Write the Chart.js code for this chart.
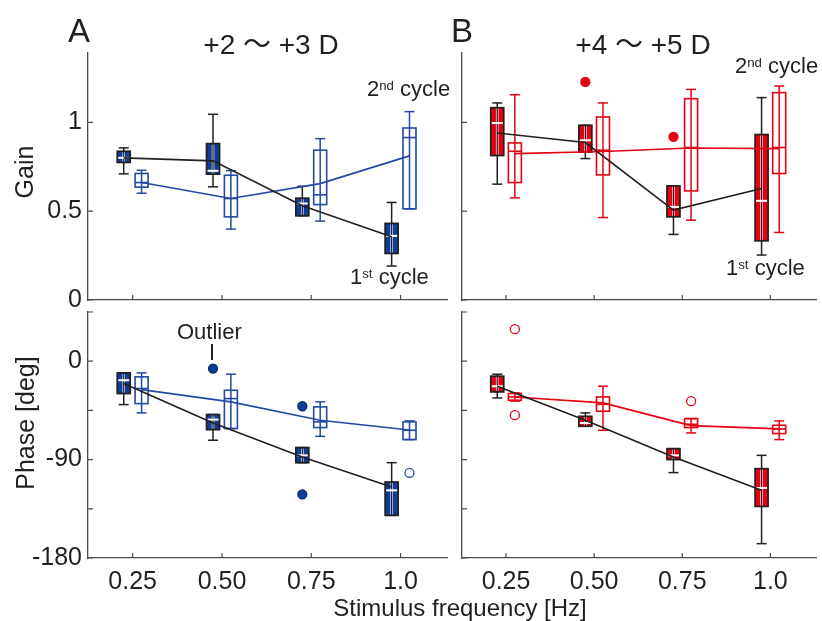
<!DOCTYPE html>
<html>
<head>
<meta charset="utf-8">
<script src="https://cdn.jsdelivr.net/npm/chart.js@4/dist/chart.umd.min.js"></script>
<style>
  html, body { margin: 0; padding: 0; background: #fff; }
  body { width: 822px; height: 621px; position: relative; overflow: hidden;
         font-family: "Liberation Sans", Arial, "Noto Sans CJK JP", sans-serif; color: #231f20; }
  canvas { position: absolute; }
  .txt { position: absolute; white-space: nowrap; line-height: 1; }
  .rot { position: absolute; white-space: nowrap; line-height: 1; transform: translate(-50%, -50%) rotate(-90deg); }
  sup { font-size: 0.6em; vertical-align: 0; position: relative; top: -0.45em; }
</style>
</head>
<body>
<canvas id="phaseA" width="429" height="296" style="left:28px;top:302px"></canvas>
<canvas id="phaseB" width="420" height="296" style="left:402px;top:302px"></canvas>
<canvas id="gainA" width="429" height="282" style="left:28px;top:43px"></canvas>
<canvas id="gainB" width="420" height="282" style="left:402px;top:43px"></canvas>

<div class="txt" style="left:68px;top:14px;font-size:33px">A</div>
<div class="txt" style="left:451px;top:14px;font-size:33px">B</div>
<div class="txt" style="left:271px;top:31px;font-size:28px;transform:translateX(-50%)">+2 〜 +3 D</div>
<div class="txt" style="left:643px;top:31px;font-size:28px;transform:translateX(-50%)">+4 〜 +5 D</div>

<div class="rot" style="left:24px;top:172px;font-size:25px">Gain</div>
<div class="rot" style="left:25px;top:423px;font-size:25px">Phase [deg]</div>
<div class="txt" style="left:460px;top:596px;font-size:24px;transform:translateX(-50%)">Stimulus frequency [Hz]</div>

<div class="txt" style="left:367px;top:78px;font-size:22px">2<sup>nd</sup> cycle</div>
<div class="txt" style="left:735px;top:55px;font-size:22px">2<sup>nd</sup> cycle</div>
<div class="txt" style="left:350px;top:266px;font-size:22px">1<sup>st</sup> cycle</div>
<div class="txt" style="left:726px;top:257px;font-size:22px">1<sup>st</sup> cycle</div>
<div class="txt" style="left:177px;top:321px;font-size:22px">Outlier</div>
<div style="position:absolute;left:211px;top:344px;width:1.5px;height:16px;background:#231f20"></div>

<script>
const freqs = [0.25, 0.5, 0.75, 1.0];
const freqLabels = ['0.25', '0.50', '0.75', '1.0'];
const gainTicks = [0, 0.5, 1];
const gainLabels = ['0', '0.5', '1'];
const phaseTicks = [-180, -135, -90, -45, 0, 45];
const phaseLabels = ['-180', '', '-90', '', '0', ''];

// box stats per frequency: [low whisker, q1, median, q3, high whisker]
const gainA1 = [[0.71, 0.774, 0.80, 0.837, 0.856], [0.637, 0.708, 0.727, 0.88, 1.045],
                [0.474, 0.474, 0.543, 0.573, 0.64], [0.191, 0.262, 0.361, 0.431, 0.549]];
const gainA1Mean = [0.80, 0.783, 0.53, 0.356];
const gainA2 = [[0.601, 0.635, 0.661, 0.712, 0.730], [0.399, 0.468, 0.571, 0.702, 0.728],
                [0.444, 0.537, 0.592, 0.843, 0.908], [0.513, 0.513, 0.914, 0.968, 1.06]];
const gainA2Mean = [0.661, 0.571, 0.655, 0.811];

const gainB1 = [[0.652, 0.813, 0.996, 1.082, 1.109], [0.796, 0.833, 0.899, 0.983, 0.983],
                [0.369, 0.468, 0.524, 0.642, 0.642], [0.253, 0.333, 0.558, 0.931, 1.139]];
const gainB1Mean = [0.94, 0.886, 0.506, 0.627];
const gainB2 = [[0.575, 0.661, 0.837, 0.884, 1.155], [0.464, 0.704, 0.843, 1.030, 1.109],
                [0.449, 0.614, 0.858, 1.133, 1.185], [0.380, 0.712, 0.858, 1.167, 1.204]];
const gainB2Mean = [0.824, 0.836, 0.855, 0.852];
const gainB1Outliers = [{x: 0.475, y: 1.227}, {x: 0.725, y: 0.918}];

const phaseA1 = [[-39.7, -29.6, -17.4, -10.7, -10.7], [-72.3, -62.6, -53.4, -48.8, -48.8],
                 [-92.8, -92.8, -86.1, -79.0, -79.0], [-141, -141, -118.1, -110.5, -92.8]];
const phaseA1Mean = [-20.4, -56.5, -87.6, -115];
const phaseA2 = [[-47.3, -38.8, -25.0, -14.3, -10.7], [-61.6, -61.6, -34.2, -26.6, -11.9],
                 [-68.7, -60.7, -55.5, -41.8, -37.2], [-71.7, -71.7, -63.2, -55.5, -54.6]];
const phaseA2Mean = [-26, -37.2, -54, -62.9];
const phaseA1Outliers = [{x: 0.475, y: -6.7}, {x: 0.725, y: -41.2}, {x: 0.725, y: -121.8}];
const phaseA2Outliers = [{x: 1.025, y: -102.2}];

const phaseB1 = [[-33.6, -28.1, -22.9, -13.7, -11.9], [-59.5, -59.5, -56.5, -50.4, -47.3],
                 [-101.9, -90, -86.1, -80, -80], [-166.9, -132.8, -116, -98.3, -86.1]];
const phaseB1Mean = [-22.9, -54, -87.6, -118.1];
const phaseB2 = [[-36.5, -35.7, -32.7, -29.6, -29], [-63.2, -45.8, -39.4, -32.7, -22.9],
                 [-65.6, -60.7, -57.7, -52.5, -52.5], [-71.7, -66.2, -62, -58.6, -54.6]];
const phaseB2Mean = [-32.7, -38.1, -58.9, -61.9];
const phaseB2Outliers = [{x: 0.275, y: 29.3}, {x: 0.275, y: -49.4}, {x: 0.775, y: -36.6}];

const INK = '#231f20';
const AXIS = '#4a4a4a';
const NAVY = '#103c9a';
const BLUE = '#2249a3';
const RED = '#e60012';
const SHIFT = 0.025;
const TICK_FONT = {family: '"Liberation Sans", Arial, sans-serif', size: 25};

function makeBoxPlugin(sets, yTicks) {
    return {
        id: 'boxes',
        beforeDatasetsDraw(chart) {
            const {ctx, scales: {x, y}} = chart;
            const hw = 6.5, cap = 5;
            ctx.save();
            sets.forEach(set => {
                set.stats.forEach((s, i) => {
                    const cx = x.getPixelForValue(freqs[i] + set.offset);
                    const [lo, q1, med, q3, hi] = s.map(v => y.getPixelForValue(v));
                    const line = (x0, y0, x1, y1, color, w) => {
                        ctx.strokeStyle = color;
                        ctx.lineWidth = w;
                        ctx.beginPath();
                        ctx.moveTo(x0, y0);
                        ctx.lineTo(x1, y1);
                        ctx.stroke();
                    };
                    const edge = set.filled ? INK : set.color;
                    // whisker + caps
                    line(cx, lo, cx, hi, edge, 1.5);
                    line(cx - cap, lo, cx + cap, lo, edge, 1.5);
                    line(cx - cap, hi, cx + cap, hi, edge, 1.5);
                    if (set.filled) {
                        ctx.fillStyle = set.color;
                        ctx.fillRect(cx - hw, q3, hw * 2, q1 - q3);
                        ctx.strokeStyle = INK;
                        ctx.lineWidth = 1.7;
                        ctx.strokeRect(cx - hw, q3, hw * 2, q1 - q3);
                        line(cx, q3 + 1, cx, q1 - 1, 'rgba(255,255,255,0.85)', 2.6);
                        line(cx, q3, cx, q1, INK, 1.2);
                        line(cx - hw + 1, med, cx + hw - 1, med, '#ffffff', 2);
                    } else {
                        ctx.strokeStyle = set.color;
                        ctx.lineWidth = 1.6;
                        ctx.strokeRect(cx - hw, q3, hw * 2, q1 - q3);
                        line(cx - hw, med, cx + hw, med, set.color, 1.6);
                    }
                });
            });
            ctx.restore();
        },
        afterDraw(chart) {
            const {ctx, chartArea, scales: {x, y}} = chart;
            ctx.save();
            ctx.strokeStyle = AXIS;
            ctx.lineWidth = 1.2;
            ctx.beginPath();
            freqs.forEach(f => {
                const px = x.getPixelForValue(f);
                ctx.moveTo(px, chartArea.bottom);
                ctx.lineTo(px, chartArea.bottom - 5);
            });
            yTicks.forEach(v => {
                const py = y.getPixelForValue(v);
                ctx.moveTo(chartArea.left, py);
                ctx.lineTo(chartArea.left + 5, py);
            });
            ctx.stroke();
            ctx.restore();
        }
    };
}

function meanLine(vals, offset, color) {
    return {
        data: vals.map((v, i) => ({x: freqs[i] + offset, y: v})),
        borderColor: color,
        borderWidth: 1.6,
        pointRadius: 0,
        fill: false
    };
}

function outlierSet(points, color, filled) {
    return {
        data: points,
        showLine: false,
        pointRadius: 4.5,
        pointBackgroundColor: filled ? color : '#ffffff',
        pointBorderColor: filled ? (color === RED ? RED : '#0b2a66') : color,
        pointBorderWidth: 1.3
    };
}

function noPadding(axis) {
    axis.paddingTop = 0;
    axis.paddingBottom = 0;
    axis.paddingLeft = 0;
    axis.paddingRight = 0;
}

function makeChart(id, cfg) {
    const yLabels = cfg.yLabels;
    return new Chart(document.getElementById(id), {
        type: 'line',
        data: {datasets: cfg.datasets},
        options: {
            responsive: false,
            animation: false,
            events: [],
            layout: {padding: {top: 10, right: cfg.padRight, bottom: 0, left: 0}},
            plugins: {legend: {display: false}, tooltip: {enabled: false}},
            scales: {
                x: {
                    type: 'linear',
                    min: 0.125,
                    max: 1.13,
                    afterBuildTicks: axis => { axis.ticks = freqs.map(v => ({value: v})); },
                    afterFit: axis => { axis.height = cfg.xHeight; noPadding(axis); },
                    grid: {display: false, drawTicks: false},
                    border: {display: true, color: AXIS, width: 1.3},
                    ticks: {
                        display: cfg.xLabels,
                        padding: 9,
                        color: INK,
                        font: TICK_FONT,
                        autoSkip: false,
                        maxRotation: 0,
                        callback: (v, i) => freqLabels[i]
                    }
                },
                y: {
                    type: 'linear',
                    min: cfg.yMin,
                    max: cfg.yMax,
                    afterBuildTicks: axis => { axis.ticks = cfg.yTicks.map(v => ({value: v})); },
                    afterFit: axis => { axis.width = 60; noPadding(axis); },
                    grid: {display: false, drawTicks: false},
                    border: {display: true, color: AXIS, width: 1.3},
                    ticks: {
                        display: !!yLabels,
                        padding: 6,
                        color: INK,
                        font: TICK_FONT,
                        autoSkip: false,
                        callback: (v, i) => yLabels ? yLabels[i] : ''
                    }
                }
            }
        },
        plugins: [makeBoxPlugin(cfg.boxes, cfg.yTicks)]
    });
}

makeChart('gainA', {
    yMin: 0, yMax: 1.39, yTicks: gainTicks, yLabels: gainLabels,
    xLabels: false, xHeight: 25, padRight: 10,
    boxes: [
        {stats: gainA2, offset: SHIFT, filled: false, color: BLUE},
        {stats: gainA1, offset: -SHIFT, filled: true, color: NAVY}
    ],
    datasets: [
        meanLine(gainA1Mean, -SHIFT, INK),
        meanLine(gainA2Mean, SHIFT, BLUE)
    ]
});

makeChart('gainB', {
    yMin: 0, yMax: 1.39, yTicks: gainTicks, yLabels: null,
    xLabels: false, xHeight: 25, padRight: 2,
    boxes: [
        {stats: gainB2, offset: SHIFT, filled: false, color: RED},
        {stats: gainB1, offset: -SHIFT, filled: true, color: RED}
    ],
    datasets: [
        outlierSet(gainB1Outliers, RED, true),
        meanLine(gainB1Mean, -SHIFT, INK),
        meanLine(gainB2Mean, SHIFT, RED)
    ]
});

makeChart('phaseA', {
    yMin: -180, yMax: 45, yTicks: phaseTicks, yLabels: phaseLabels,
    xLabels: true, xHeight: 40, padRight: 10,
    boxes: [
        {stats: phaseA2, offset: SHIFT, filled: false, color: BLUE},
        {stats: phaseA1, offset: -SHIFT, filled: true, color: NAVY}
    ],
    datasets: [
        outlierSet(phaseA1Outliers, NAVY, true),
        outlierSet(phaseA2Outliers, BLUE, false),
        meanLine(phaseA1Mean, -SHIFT, INK),
        meanLine(phaseA2Mean, SHIFT, BLUE)
    ]
});

makeChart('phaseB', {
    yMin: -180, yMax: 45, yTicks: phaseTicks, yLabels: null,
    xLabels: true, xHeight: 40, padRight: 2,
    boxes: [
        {stats: phaseB2, offset: SHIFT, filled: false, color: RED},
        {stats: phaseB1, offset: -SHIFT, filled: true, color: RED}
    ],
    datasets: [
        outlierSet(phaseB2Outliers, RED, false),
        meanLine(phaseB1Mean, -SHIFT, INK),
        meanLine(phaseB2Mean, SHIFT, RED)
    ]
});
</script>
</body>
</html>
